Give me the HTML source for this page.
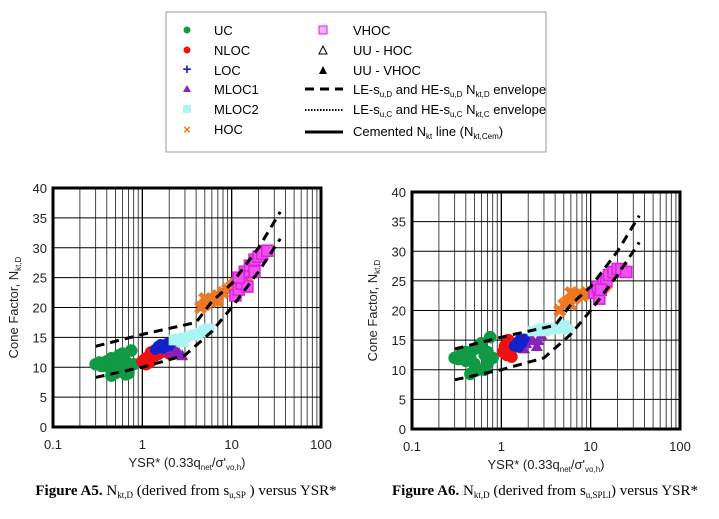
<!DOCTYPE html>
<html><head><meta charset="utf-8">
<style>
body{margin:0;background:#fff;}
svg{display:block;font-family:"Liberation Sans",sans-serif;}
.cap{font-family:"Liberation Serif",serif;font-size:15px;}
</style></head>
<body>
<svg id="s" width="719" height="519" viewBox="0 0 719 519">
<g>
<rect x="166" y="12" width="380" height="140" fill="#fff" stroke="#aaa" stroke-width="1.2"/>
<circle cx="187" cy="30" r="3.5" fill="#119944"/><text x="214" y="35" font-size="13">UC</text>
<circle cx="187" cy="50" r="3.5" fill="#ee1111"/><text x="214" y="55" font-size="13">NLOC</text>
<text x="187" y="74" font-size="15" font-weight="bold" fill="#1122cc" text-anchor="middle">+</text><text x="214" y="75" font-size="13">LOC</text>
<polygon points="187,85 191,92 183,92" fill="#8822bb"/><text x="214" y="94" font-size="13">MLOC1</text>
<rect x="183" y="105" width="8" height="8" fill="#aaf4f4"/><text x="214" y="114" font-size="13">MLOC2</text>
<text x="187" y="134" font-size="13" font-weight="bold" fill="#ee7722" text-anchor="middle">×</text><text x="214" y="134" font-size="13">HOC</text>
<rect x="319" y="26" width="8" height="8" fill="#f8b0f8" stroke="#dd22dd"/><text x="353" y="35" font-size="13">VHOC</text>
<polygon points="323,46 327,54 319,54" fill="none" stroke="#000"/><text x="353" y="55" font-size="13">UU - HOC</text>
<polygon points="323,66 327,74 319,74" fill="#000"/><text x="353" y="75" font-size="13">UU - VHOC</text>
<line x1="305" y1="89" x2="343" y2="89" stroke="#000" stroke-width="3" stroke-dasharray="9,6"/><text x="353" y="94" font-size="13">LE-s<tspan font-size="8" dy="3">u,D</tspan><tspan dy="-3"> and HE-s</tspan><tspan font-size="8" dy="3">u,D</tspan><tspan dy="-3"> N</tspan><tspan font-size="8" dy="3">kt,D</tspan><tspan dy="-3"> envelope</tspan></text>
<line x1="305" y1="110" x2="343" y2="110" stroke="#000" stroke-width="2" stroke-dasharray="1.5,1.5"/><text x="353" y="114" font-size="13">LE-s<tspan font-size="8" dy="3">u,C</tspan><tspan dy="-3"> and HE-s</tspan><tspan font-size="8" dy="3">u,C</tspan><tspan dy="-3"> N</tspan><tspan font-size="8" dy="3">kt,C</tspan><tspan dy="-3"> envelope</tspan></text>
<line x1="305" y1="132" x2="343" y2="132" stroke="#000" stroke-width="3"/><text x="353" y="136" font-size="13">Cemented N<tspan font-size="8" dy="3">kt</tspan><tspan dy="-3"> line (N</tspan><tspan font-size="8" dy="3">kt,Cem</tspan><tspan dy="-3">)</tspan></text>
</g>
<text class="cap" x="186" y="495" text-anchor="middle"><tspan font-weight="bold">Figure A5.</tspan> N<tspan font-size="9" dy="3">kt,D</tspan><tspan dy="-3"> (derived from s</tspan><tspan font-size="9" dy="3">u,SP</tspan><tspan dy="-3"> ) versus YSR*</tspan></text>
<text class="cap" x="545" y="495" text-anchor="middle"><tspan font-weight="bold">Figure A6.</tspan> N<tspan font-size="9" dy="3">kt,D</tspan><tspan dy="-3"> (derived from s</tspan><tspan font-size="9" dy="3">u,SPLI</tspan><tspan dy="-3">) versus YSR*</tspan></text>
</svg>
<script>
const yTicks=[0,5,10,15,20,25,30,35,40];
const xTickLabels=["0.1","1","10","100"];
const envUpper=[[0.3,13.5],[1,15.5],[4,17.5],[6,21],[10,24],[20,30],[35,36]];
const envLower=[[0.3,8.3],[1,10],[3,12],[6,16],[10,20],[20,26],[35,31.5]];
const a5UC=[[0.3,10.5],[0.33,10.8],[0.37,10.3],[0.4,11],[0.42,10],[0.45,11.5],[0.5,11],[0.55,12],[0.6,12.3],[0.65,11],[0.5,9],[0.45,8.6],[0.55,9.5],[0.6,10],[0.7,9],[0.75,12.8],[0.8,10.5],[0.35,10.2],[0.65,8.8],[0.5,10.5]];
const a5NLOC=[[1,11],[1.1,11.5],[1.2,10.8],[1.3,11.8],[1.4,12],[1.5,12.2],[1.6,12.5],[1.8,12.8],[1.1,10.5],[1.25,12.5],[2,12.3]];
const a5LOC=[[1.4,13],[1.5,13.5],[1.6,13.8],[1.7,13.2],[1.8,13.5],[1.9,14],[2,13.6]];
const a5MLOC1=[[2,13],[2.2,14.5],[2.4,13],[2.6,12.3],[2.8,12],[2.3,12.5],[1.9,12.8]];
const a5MLOC2=[[2.3,14.5],[2.6,14.8],[3,15],[3.5,15.3],[4,15.5],[4.5,15.8],[5,16.2],[5.5,16.5],[2.8,14.2]];
const a5HOC=[[4.5,20],[5,20.5],[5.5,21],[6,21.2],[6.5,21.5],[7,22],[8,22.5],[9,23],[10,23.5],[11,24],[13,24.5],[14,25],[15,25.5],[5,21.5],[7,21]];
const a5VHOC=[[11,22],[12,23],[13,24],[14,26],[15,23.5],[16,27],[18,28],[20,28.5],[22,29],[25,29.5],[12,25],[18,26]];
const a6UC=[[0.3,12],[0.35,12.5],[0.4,13],[0.45,12],[0.5,13.5],[0.55,14],[0.6,14.5],[0.65,12.5],[0.7,13],[0.75,15.5],[0.8,12],[0.5,11],[0.45,9.3],[0.55,10],[0.65,10],[0.7,11],[0.4,11.5],[0.33,11.8]];
const a6NLOC=[[1.05,13],[1.1,14],[1.15,12.5],[1.2,15],[1.25,13.5],[1.3,12.2],[1.2,14.5],[1.1,13.5]];
const a6LOC=[[1.4,14],[1.5,14.5],[1.6,15],[1.7,14.5],[1.8,15.2],[1.55,13.8]];
const a6MLOC1=[[1.7,14],[1.9,14.5],[2,15],[2.2,15.3],[2.5,14],[2.6,15],[2.8,16],[1.8,13.6]];
const a6MLOC2=[[2.3,16.5],[2.7,16.8],[3,16.5],[3.5,17],[4,16.8],[4.5,17.2],[5,17.5],[5.5,16.8],[3,17]];
const a6HOC=[[4.5,20],[5,21],[5.5,21.5],[6,21],[6.5,22],[7,22.5],[7.5,23],[8,22.5],[9,23],[10,23],[12,23.5],[14,24],[15,24.5],[6,23]];
const a6VHOC=[[11,23],[12,24],[12.5,22],[14,25],[15,25],[16,26],[18,26.5],[20,27],[22,27],[25,26.5],[13,23.5]];

const NS="http://www.w3.org/2000/svg";
const svg=document.getElementById('s');
function mk(tag,attrs,parent){const e=document.createElementNS(NS,tag);for(const k in attrs)e.setAttribute(k,attrs[k]);parent.appendChild(e);return e;}

function chart(name,L,R,T,B,series){
  const g=mk('g',{},svg);
  
  
  const sx=v=>L+(Math.log10(v)+1)/3*(R-L);
  const sy=v=>B-v/40*(B-T);
  for(let d=-1;d<2;d++)for(let m=1;m<10;m++){
    const v=m*Math.pow(10,d);
    const ln=mk('line',{x1:sx(v),x2:sx(v),y1:T,y2:B,stroke:m===1?'#000':'#333','stroke-width':m===1?1.3:0.9},g);
    
    
  }
  yTicks.forEach(t=>{
    const ln=mk('line',{x1:L,x2:R,y1:sy(t),y2:sy(t),stroke:'#000','stroke-width':1.1},g);
    
    
    const tx=mk('text',{x:L-6,y:sy(t)+5,'font-size':13,'text-anchor':'end',fill:'#222'},g);
    tx.textContent=t;
    
    
  });
  xTickLabels.forEach(t=>{
    const tx=mk('text',{x:sx(parseFloat(t)),y:B+22,'font-size':13,'text-anchor':'middle',fill:'#222'},g);
    tx.textContent=t;
    
    
  });
  const draw=(pts,fn,nm)=>pts.forEach(p=>{const e=fn(sx(p[0]),sy(p[1]));});
  draw(series.UC,(x,y)=>mk('circle',{cx:x,cy:y,r:5.5,fill:'#119944',stroke:'#119944','stroke-width':1.5},g),'uc-point');
  draw(series.NLOC,(x,y)=>mk('circle',{cx:x,cy:y,r:5.5,fill:'#ee1111',stroke:'#ee1111','stroke-width':1.5},g),'nloc-point');
  draw(series.MLOC1,(x,y)=>mk('polygon',{points:`${x},${y-6} ${x+6},${y+5} ${x-6},${y+5}`,fill:'#8822bb'},g),'mloc1-point');
  draw(series.LOC,(x,y)=>mk('circle',{cx:x,cy:y,r:5.5,fill:'#1122cc'},g),'loc-point');
  draw(series.MLOC2,(x,y)=>mk('rect',{x:x-6,y:y-5,width:12,height:10,fill:'#aaf4f4'},g),'mloc2-point');
  draw(series.HOC,(x,y)=>mk('path',{d:`M${x-5} ${y-5}L${x+5} ${y+5}M${x+5} ${y-5}L${x-5} ${y+5}`,stroke:'#ee7722','stroke-width':4.5},g),'hoc-point');
  draw(series.VHOC,(x,y)=>mk('rect',{x:x-5.5,y:y-5.5,width:11,height:11,fill:'#f050f0',stroke:'#dd22dd','stroke-width':1.5},g),'vhoc-point');
  [envUpper,envLower].forEach((env,i)=>{
    const p=mk('polyline',{points:env.map(q=>sx(q[0])+','+sy(q[1])).join(' '),fill:'none',stroke:'#000','stroke-width':3,'stroke-dasharray':'9,6'},g);
    
    
  });
  const bd=mk('rect',{x:L,y:T,width:R-L,height:B-T,fill:'none',stroke:'#000','stroke-width':3},g);
  
  
  const xt=mk('text',{x:(L+R)/2,y:B+40,'font-size':13,'text-anchor':'middle',fill:'#222'},g);
  xt.innerHTML='YSR* (0.33q<tspan font-size="8" dy="3">net</tspan><tspan dy="-3">/σ\'</tspan><tspan font-size="8" dy="3">vo,h</tspan><tspan dy="-3">)</tspan>';
  
  
  const cy=(T+B)/2, cx=L-35;
  const yt=mk('text',{x:cx,y:cy,'font-size':13,'text-anchor':'middle',fill:'#222',transform:`rotate(-90 ${cx} ${cy})`},g);
  yt.innerHTML='Cone Factor, N<tspan font-size="8" dy="3">kt,D</tspan>';
  
  
}
chart('chart-a5',53,321,188,427,{UC:a5UC,NLOC:a5NLOC,LOC:a5LOC,MLOC1:a5MLOC1,MLOC2:a5MLOC2,HOC:a5HOC,VHOC:a5VHOC});
chart('chart-a6',412,680,192,429,{UC:a6UC,NLOC:a6NLOC,LOC:a6LOC,MLOC1:a6MLOC1,MLOC2:a6MLOC2,HOC:a6HOC,VHOC:a6VHOC});
</script>
</body></html>
